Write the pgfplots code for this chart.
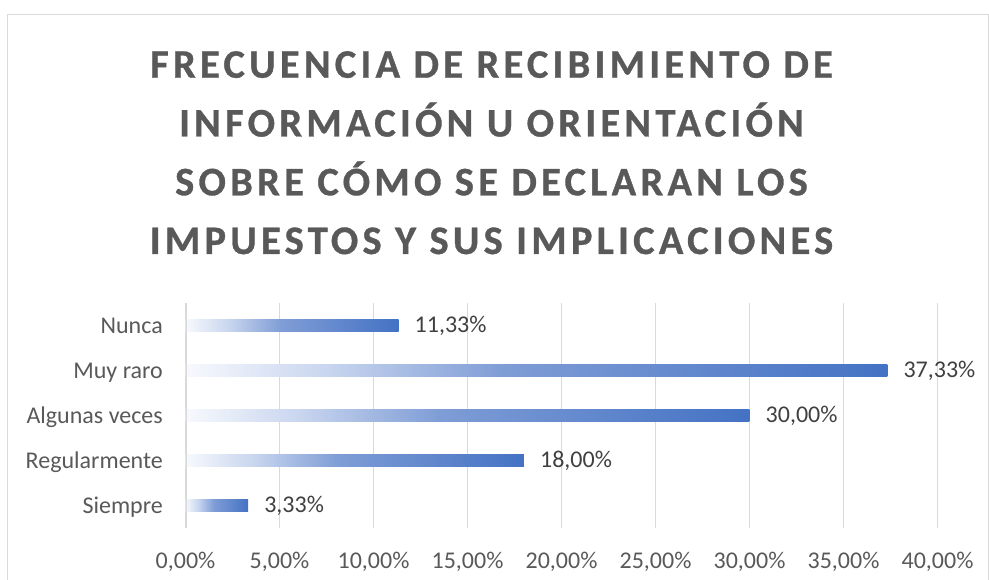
\documentclass[border=0pt]{standalone}
\usepackage{fontspec}
\setmainfont{Carlito}
\newfontfamily\titlefont[LetterSpace=10.5,FakeBold=0.8]{Carlito}
\usepackage{pgfplots}
\pgfplotsset{compat=1.18}
\definecolor{txtgray}{HTML}{595959}
\definecolor{lblgray}{HTML}{404040}
\definecolor{gridgray}{HTML}{D9D9D9}
\definecolor{barw}{HTML}{F7F9FD}
\definecolor{barl}{HTML}{C9D6EF}
\definecolor{barm}{HTML}{7F9DD6}
\definecolor{barb}{HTML}{4472C4}
\pgfdeclarehorizontalshading{bargrad}{100bp}{color(0bp)=(barw); color(25bp)=(barw); color(35bp)=(barl); color(47.5bp)=(barm); color(75bp)=(barb); color(100bp)=(barb)}
\begin{document}
\begin{tikzpicture}
\begin{axis}[
  at={(0,0)}, anchor=south west,
  scale only axis,
  width=752pt, height=225pt,
  xmin=0, xmax=40, ymin=0.5, ymax=5.5,
  bar width=12.5pt,
  no markers,
  axis line style={draw=none},
  major tick length=0pt,
  xtick={0,5,...,40},
  ytick={1,2,3,4,5},
  yticklabels={Siempre,Regularmente,Algunas veces,Muy raro,Nunca},
  xmajorgrids,
  major grid style={draw=gridgray, line width=1.5pt},
  /pgf/number format/assume math mode=true,
  xticklabel={\pgfmathprintnumber[fixed,fixed zerofill,precision=2,use comma]{\tick}\%},
  tick label style={font=\fontsize{24}{28}\selectfont, text=txtgray, inner sep=0pt},
  xticklabel style={anchor=base, yshift=-40pt},
  yticklabel style={anchor=base east, xshift=-22.5pt, yshift=-7.5pt},
  every axis plot/.append style={xbar, bar shift=0pt, draw=none, shading=bargrad, mark=none},
  point meta=x,
  nodes near coords={\pgfmathprintnumber[fixed,fixed zerofill,precision=2,use comma]{\pgfplotspointmeta}\%},
  nodes near coords style={font=\fontsize{24}{28}\selectfont, text=lblgray, anchor=west, inner sep=0pt, xshift=16pt},
]
\addplot coordinates {(3.33,1)};
\addplot coordinates {(18,2)};
\addplot coordinates {(30,3)};
\addplot coordinates {(37.33,4)};
\addplot coordinates {(11.33,5)};
\draw[gridgray, line width=3.5pt] (axis cs:0,0.5) -- (axis cs:0,5.5);
\end{axis}
\draw[gridgray, line width=1pt] (-178pt,-70pt) -- (-178pt,513pt) -- (802.5pt,513pt) -- (802.5pt,-70pt);
\begin{scope}[every node/.style={font=\titlefont\bfseries\fontsize{40.5}{46}\selectfont, text=txtgray, anchor=base, inner sep=0pt}]
\node at (306pt,450.3pt) {FRECUENCIA DE RECIBIMIENTO DE};
\node at (306pt,391.5pt) {INFORMACIÓN U ORIENTACIÓN};
\node at (306pt,332.7pt) {SOBRE CÓMO SE DECLARAN LOS};
\node at (306pt,274pt) {IMPUESTOS Y SUS IMPLICACIONES};
\end{scope}
\pgfresetboundingbox
\useasboundingbox (-185.5pt,-51pt) rectangle (803.5pt,528pt);
\end{tikzpicture}
\end{document}
